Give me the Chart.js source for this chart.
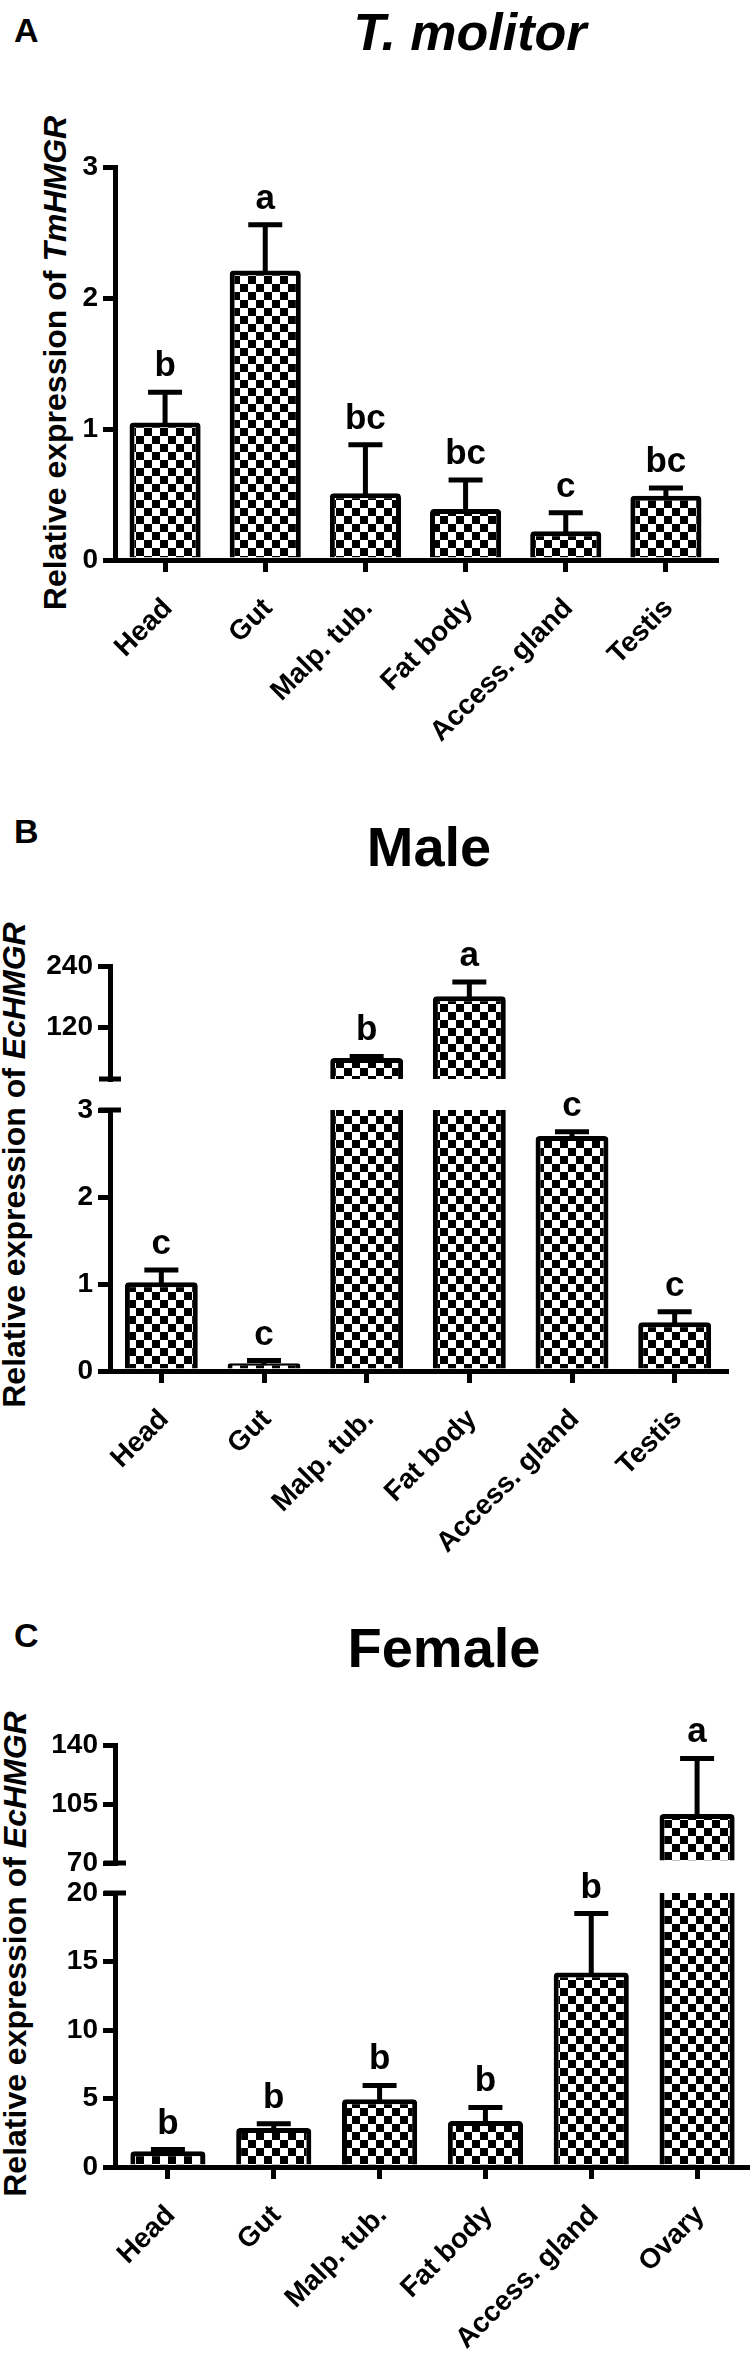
<!DOCTYPE html>
<html>
<head>
<meta charset="utf-8">
<script src="https://cdn.jsdelivr.net/npm/chart.js@4.4.1/dist/chart.umd.min.js"></script>
<style>
  html, body { margin: 0; padding: 0; background: #fff; }
  body { width: 750px; height: 2356px; position: relative; overflow: hidden;
         font-family: 'Liberation Sans', Arial, Helvetica, sans-serif; color: #000; }
  canvas { position: absolute; left: 0; }
  .letter { position: absolute; font-weight: bold; font-size: 34px; line-height: 1; }
  .title { position: absolute; width: 400px; text-align: center; font-weight: bold; line-height: 1; white-space: nowrap; }
  .ylabel { position: absolute; width: 600px; height: 36px; line-height: 36px; text-align: center;
            font-weight: bold; font-size: 32px; white-space: nowrap; transform: rotate(-90deg); }
</style>
</head>
<body>

<div class="letter" style="left:14px; top:13px;">A</div>
<div class="title" style="left:270px; top:6px; font-size:52px; font-style:italic;">T. molitor</div>
<div class="ylabel" style="left:-245px; top:345px;">Relative expression of <i>TmHMGR</i></div>
<canvas id="chartA" width="750" height="620" style="top:140px;"></canvas>

<div class="letter" style="left:14px; top:814px;">B</div>
<div class="title" style="left:229px; top:819px; font-size:56px;">Male</div>
<div class="ylabel" style="left:-286px; top:1147px;">Relative expression of <i>EcHMGR</i></div>
<canvas id="chartB" width="750" height="660" style="top:900px;"></canvas>

<div class="letter" style="left:14px; top:1618px;">C</div>
<div class="title" style="left:244px; top:1620px; font-size:56px;">Female</div>
<div class="ylabel" style="left:-285px; top:1936px;">Relative expression of <i>EcHMGR</i></div>
<canvas id="chartC" width="750" height="656" style="top:1700px;"></canvas>

<script>
// ---- data ----
const tissuesA = ['Head', 'Gut', 'Malp. tub.', 'Fat body', 'Access. gland', 'Testis'];
const valuesA = [1.05, 2.21, 0.51, 0.39, 0.22, 0.49];
const errorsA = [0.23, 0.35, 0.37, 0.22, 0.14, 0.06];
const lettersA = ['b', 'a', 'bc', 'bc', 'c', 'bc'];
const ticksA = [0, 1, 2, 3];

const tissuesB = ['Head', 'Gut', 'Malp. tub.', 'Fat body', 'Access. gland', 'Testis'];
const valuesB = [1.02, 0.09, 61, 181, 2.70, 0.56];
const errorsB = [0.14, 0.03, 3, 28, 0.05, 0.12];
const lettersB = ['c', 'c', 'b', 'a', 'c', 'c'];
const ticksBLower = [0, 1, 2, 3];
const ticksBUpper = [120, 240];

const tissuesC = ['Head', 'Gut', 'Malp. tub.', 'Fat body', 'Access. gland', 'Ovary'];
const valuesC = [1.15, 2.85, 4.95, 3.35, 14.2, 99];
const errorsC = [0.12, 0.3, 1.0, 1.0, 4.3, 33];
const lettersC = ['b', 'b', 'b', 'b', 'b', 'a'];
const ticksCLower = [0, 5, 10, 15, 20];
const ticksCUpper = [70, 105, 140];

const FONT = "'Liberation Sans', Arial, Helvetica, sans-serif";

function checkerTile() {
    const c = document.createElement('canvas');
    c.width = 16; c.height = 16;
    const g = c.getContext('2d');
    g.fillStyle = '#fff';
    g.fillRect(0, 0, 16, 16);
    g.fillStyle = '#000';
    g.fillRect(0, 0, 8, 8);
    g.fillRect(8, 8, 8, 8);
    return c;
}

function yAxis(min, max, ticks, width, extra) {
    return Object.assign({
        type: 'linear',
        position: 'left',
        min: min,
        max: max,
        afterBuildTicks: s => { s.ticks = ticks.map(v => ({ value: v })); },
        afterFit: s => { s.width = width; },
        ticks: { color: '#000', font: { family: FONT, size: 28, weight: 'bold' }, padding: 5 },
        grid: { display: true, drawOnChartArea: false, drawTicks: true, tickLength: 12, lineWidth: 5, color: '#000' },
        border: { display: true, width: 5, color: '#000' }
    }, extra || {});
}

// panel: labels, values, errors, letters + layout
function makePanel(id, labels, values, errors, letters, opt) {
    const canvas = document.getElementById(id);
    const pattern = canvas.getContext('2d').createPattern(checkerTile(), 'repeat');
    const broken = !!opt.upper;
    const lowMax = opt.lower.range[1];

    const barStyle = {
        backgroundColor: pattern,
        borderColor: '#000',
        borderSkipped: 'start',
        grouped: false,
        barPercentage: 0.71,
        categoryPercentage: 1
    };

    const datasets = [Object.assign({
        data: values.map(v => Math.min(v, lowMax)),
        yAxisID: 'y',
        // clipped (broken) bars lose their top edge and rounding
        borderWidth: c => values[c.dataIndex] > lowMax ? { top: 0, left: 5, right: 5, bottom: 0 } : 5,
        borderRadius: c => values[c.dataIndex] > lowMax ? 0 : 4
    }, barStyle)];

    const scales = {
        x: {
            type: 'category',
            afterFit: s => { s.height = opt.xHeight; },
            ticks: { color: '#000', font: { family: FONT, size: 28, weight: 'bold' },
                     maxRotation: 45, minRotation: 45, autoSkip: false, padding: 20, labelOffset: 3 },
            grid: { display: true, drawOnChartArea: false, offset: false, tickLength: 12, lineWidth: 5, color: '#000' },
            border: { display: true, width: 5, color: '#000' }
        }
    };

    if (broken) {
        datasets.push(Object.assign({
            data: values.map(v => v > lowMax ? v : null),
            yAxisID: 'yUpper',
            base: opt.upper.range[0],
            borderWidth: 5,
            borderRadius: 4
        }, barStyle));
        scales.y = yAxis(opt.lower.range[0], lowMax, opt.lower.ticks, opt.axisX,
            { stack: 'v', stackWeight: opt.lower.h, weight: 1 });
        scales.gap = {
            type: 'linear', position: 'left', stack: 'v', stackWeight: opt.gap, weight: 2,
            afterFit: s => { s.width = opt.axisX; },
            ticks: { display: false }, grid: { display: false }, border: { display: false }
        };
        scales.yUpper = yAxis(opt.upper.range[0], opt.upper.range[1], opt.upper.ticks, opt.axisX,
            { stack: 'v', stackWeight: opt.upper.h, weight: 3 });
    } else {
        scales.y = yAxis(opt.lower.range[0], lowMax, opt.lower.ticks, opt.axisX);
    }

    const errorBars = {
        id: 'errorBars',
        afterDatasetsDraw(chart) {
            const ctx = chart.ctx;
            const xs = chart.scales.x;
            ctx.save();
            ctx.strokeStyle = '#000';
            ctx.fillStyle = '#000';
            ctx.lineWidth = 5;
            ctx.textAlign = 'center';
            ctx.textBaseline = 'alphabetic';
            ctx.font = 'bold 35px ' + FONT;
            values.forEach((v, i) => {
                const ys = broken && v > lowMax ? chart.scales.yUpper : chart.scales.y;
                const x = xs.getPixelForValue(i);
                const top = ys.getPixelForValue(v);
                const cap = ys.getPixelForValue(v + errors[i]);
                ctx.beginPath();
                ctx.moveTo(x, top + 2);
                ctx.lineTo(x, cap);
                ctx.moveTo(x - 17, cap);
                ctx.lineTo(x + 17, cap);
                ctx.stroke();
                ctx.fillText(letters[i], x, cap - 16);
            });
            // break marks on the y axis
            if (broken) {
                const ax = chart.chartArea.left;
                [chart.scales.yUpper.bottom, chart.scales.y.top].forEach(yy => {
                    ctx.beginPath();
                    ctx.moveTo(ax - 11, yy);
                    ctx.lineTo(ax + 11, yy);
                    ctx.stroke();
                });
            }
            ctx.restore();
        }
    };

    return new Chart(canvas, {
        type: 'bar',
        data: { labels: labels, datasets: datasets },
        options: {
            responsive: false,
            animation: false,
            devicePixelRatio: 1,
            layout: { padding: { top: opt.padTop, right: opt.padRight, left: 0, bottom: 0 } },
            plugins: { legend: { display: false }, tooltip: { enabled: false } },
            scales: scales
        },
        plugins: [errorBars]
    });
}

makePanel('chartA', tissuesA, valuesA, errorsA, lettersA, {
    axisX: 115, padTop: 27, padRight: 34, xHeight: 200,
    lower: { range: [0, 3], ticks: ticksA }
});

makePanel('chartB', tissuesB, valuesB, errorsB, lettersB, {
    axisX: 110, padTop: 66, padRight: 24, xHeight: 189,
    lower: { range: [0, 3], ticks: ticksBLower, h: 261 },
    gap: 31,
    upper: { range: [20, 240], ticks: ticksBUpper, h: 113 }
});

makePanel('chartC', tissuesC, valuesC, errorsC, lettersC, {
    axisX: 115, padTop: 45, padRight: 0, xHeight: 189,
    lower: { range: [0, 20], ticks: ticksCLower, h: 274 },
    gap: 30,
    upper: { range: [70, 140], ticks: ticksCUpper, h: 118 }
});
</script>
</body>
</html>
